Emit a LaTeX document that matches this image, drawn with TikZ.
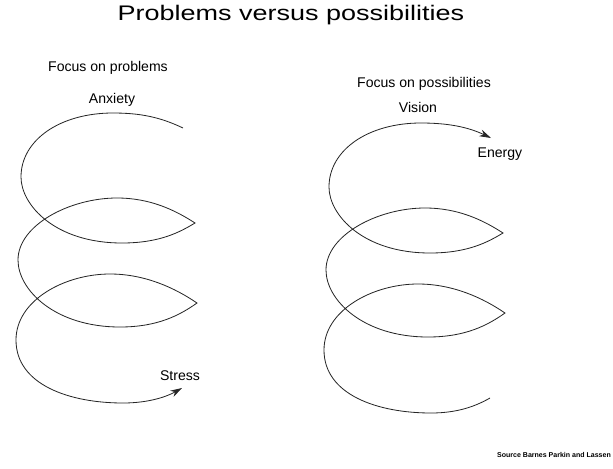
\documentclass[tikz,border=0pt]{standalone}
\usepackage{fontspec}
\setmainfont{Liberation Sans}
\usetikzlibrary{positioning,arrows.meta}

\begin{document}
\begin{tikzpicture}[x=0.03cm, y=-0.03cm, >={Stealth[length=10pt,width=6pt]},
    headline/.style={font=\fontsize{18}{21}\selectfont, xscale=1.28, anchor=base, inner sep=0pt},
    wordlabel/.style={font=\fontsize{12}{14}\selectfont, anchor=base, inner sep=0pt},
    sourcetext/.style={font=\fontsize{6}{7}\selectfont\bfseries, anchor=base, inner sep=0pt},
    coil/.style={line width=0.7pt, black!85},
    spiral/.pic={
        \draw[coil] (183,128) .. controls (160,117) and (140,113) .. (113,113)
            .. controls (60,113) and (21,140) .. (21,177)
            .. controls (21,205) and (55,243) .. (122,243)
            .. controls (160,243) and (180,232) .. (195,223)
            .. controls (175,210) and (150,198) .. (117,198)
            .. controls (70,198) and (18,225) .. (18,260)
            .. controls (18,290) and (55,327) .. (120,327)
            .. controls (158,327) and (180,315) .. (197,303)
            .. controls (175,288) and (145,274) .. (110,274)
            .. controls (65,274) and (16,300) .. (16,340)
            .. controls (16,385) and (70,403) .. (123,403)
            .. controls (150,403) and (168,396) .. (182,388);
    }]
    \useasboundingbox (0,0) rectangle (613,468);

    \node[headline] (title) at (291,20) {Problems versus possibilities};

    % left side: problems
    \node[wordlabel] (focusprob) at (108,71) {Focus on problems};
    \node[wordlabel] (anxiety) at (112,103) {Anxiety};
    \pic[->] at (0,0) {spiral};
    \node[wordlabel] (stress) at (180,380) {Stress};

    % right side: possibilities
    \node[wordlabel] (focusposs) at (424,87) {Focus on possibilities};
    \node[wordlabel] (vision) at (418,112) {Vision};
    \pic[<-] at (308,10) {spiral};
    \node[wordlabel] (energy) at (500,157) {Energy};

    \node[sourcetext] (source) at (554,457) {Source Barnes Parkin and Lassen};
\end{tikzpicture}
\end{document}
